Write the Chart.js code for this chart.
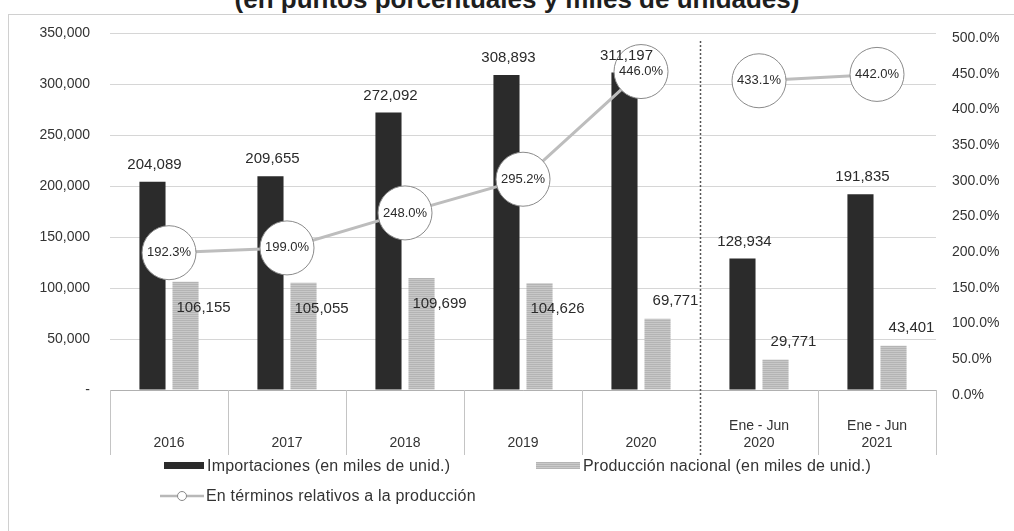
<!DOCTYPE html>
<html>
<head>
<meta charset="utf-8">
<script src="https://cdn.jsdelivr.net/npm/chart.js@4"></script>
<style>
  html, body { margin: 0; padding: 0; background: #fff; }
  #wrap { position: relative; width: 1014px; height: 531px; overflow: hidden; background: #fff; }
  #frame { position: absolute; left: 8px; top: 14px; width: 1100px; height: 600px; border-left: 1px solid #d0d0d0; border-top: 1px solid #d0d0d0; }
  #title { position: absolute; left: 0; top: -14px; width: 1034px; text-align: center; font: bold 26px "Liberation Sans", Arial, sans-serif; color: #1e1e1e; line-height: 26px; }
  canvas { position: absolute; left: 0; top: 0; }
  .lg { position: absolute; font: 16px "Liberation Sans", Arial, sans-serif; color: #333; white-space: nowrap; line-height: 18px; letter-spacing: 0.2px; }
  .sw { display: inline-block; height: 7px; vertical-align: middle; margin-right: 3px; position: relative; top: -1px; }
</style>
</head>
<body>
<div id="wrap">
  <div id="frame"></div>
  <div id="title">(en puntos porcentuales y miles de unidades)</div>
  <canvas id="c" width="1014" height="531"></canvas>
  <div class="lg" style="left:164px; top:457px;"><span class="sw" style="width:40px;background:#2b2b2b"></span>Importaciones (en miles de unid.)</div>
  <div class="lg" style="left:536px; top:457px;"><span class="sw" style="width:44px;background:repeating-linear-gradient(#b4b4b4 0 1px,#cacaca 1px 2px)"></span>Producción nacional (en miles de unid.)</div>
  <div class="lg" style="left:160px; top:487px;"><svg width="44" height="12" style="vertical-align:middle;margin-right:2px;position:relative;top:-1px"><line x1="0" y1="6" x2="44" y2="6" stroke="#b8b8b8" stroke-width="2.5"/><circle cx="22" cy="6" r="4.5" fill="#fff" stroke="#888" stroke-width="1"/></svg>En términos relativos a la producción</div>
</div>
<script>
// ---- data ----
const categoryTop  = ['', '', '', '', '', 'Ene - Jun', 'Ene - Jun'];
const categoryYear = ['2016', '2017', '2018', '2019', '2020', '2020', '2021'];
const importaciones = [204089, 209655, 272092, 308893, 311197, 128934, 191835];
const produccion    = [106155, 105055, 109699, 104626, 69771, 29771, 43401];
const relativo      = [192.3, 199.0, 248.0, 295.2, 446.0, 433.1, 442.0];
const leftTicks  = [0, 50000, 100000, 150000, 200000, 250000, 300000, 350000];
const rightTicks = [0, 50, 100, 150, 200, 250, 300, 350, 400, 450, 500];

const labels = categoryYear.map((y, i) => [categoryTop[i], y]);
const FONT = '"Liberation Sans", Arial, sans-serif';
const fmt = v => v.toLocaleString('en-US');

// hatched light-grey pattern
function hatch() {
  const p = document.createElement('canvas');
  p.width = 4; p.height = 4;
  const g = p.getContext('2d');
  g.fillStyle = '#c8c8c8'; g.fillRect(0, 0, 4, 4);
  g.fillStyle = '#b4b4b4'; g.fillRect(0, 0, 4, 1); g.fillRect(0, 2, 4, 1);
  return g.createPattern(p, 'repeat');
}

const decor = {
  id: 'decor',
  beforeInit(chart) { chart.ctx.letterSpacing = '0.8px'; },
  beforeDatasetsDraw(chart) {
    const ctx = chart.ctx, x = chart.scales.x, area = chart.chartArea;
    const n = categoryYear.length;
    const half = (x.getPixelForValue(1) - x.getPixelForValue(0)) / 2;
    ctx.save();
    ctx.strokeStyle = '#c4c4c4'; ctx.lineWidth = 1;
    for (let i = 0; i <= n; i++) {
      if (i === 5) continue;
      const px = Math.round(x.getPixelForValue(i) - half) + 0.5;
      ctx.beginPath(); ctx.moveTo(px, area.bottom); ctx.lineTo(px, area.bottom + 65); ctx.stroke();
    }
    const dx = Math.round(x.getPixelForValue(5) - half) + 0.5;
    ctx.strokeStyle = '#555'; ctx.setLineDash([2, 2]); ctx.lineWidth = 1.5;
    ctx.beginPath(); ctx.moveTo(dx, area.top + 8); ctx.lineTo(dx, area.bottom + 65); ctx.stroke();
    ctx.restore();
  },
  afterDatasetsDraw(chart) {
    const ctx = chart.ctx;
    ctx.save();
    ctx.fillStyle = '#2a2a2a';
    ctx.textAlign = 'center'; ctx.textBaseline = 'middle';
    ctx.font = '15px ' + FONT;
    chart.getDatasetMeta(1).data.forEach((el, i) => {
      ctx.fillText(fmt(importaciones[i]), el.x + 2, el.y - 17);
    });
    chart.getDatasetMeta(2).data.forEach((el, i) => {
      const y = produccion[i] > 90000 ? el.y + 26 : el.y - 18;
      ctx.fillText(fmt(produccion[i]), el.x + 18, y);
    });
    ctx.letterSpacing = '0px';
    ctx.font = '13px ' + FONT;
    chart.getDatasetMeta(0).data.forEach((el, i) => {
      ctx.fillText(relativo[i].toFixed(1) + '%', el.x, el.y);
    });
    ctx.restore();
  }
};

new Chart(document.getElementById('c'), {
  data: {
    labels: labels,
    datasets: [
      { type: 'line', label: 'En términos relativos a la producción', data: relativo, yAxisID: 'y1', order: 0,
        borderColor: '#bdbdbd', borderWidth: 3,
        segment: { borderColor: c => c.p0DataIndex === 4 ? 'rgba(0,0,0,0)' : '#bdbdbd' },
        pointRadius: 27, pointHoverRadius: 27, pointBackgroundColor: '#fff', pointBorderColor: '#8a8a8a', pointBorderWidth: 1 },
      { type: 'bar', label: 'Importaciones (en miles de unid.)', data: importaciones, yAxisID: 'y', order: 1,
        backgroundColor: '#2b2b2b', categoryPercentage: 0.56, barPercentage: 0.79 },
      { type: 'bar', label: 'Producción nacional (en miles de unid.)', data: produccion, yAxisID: 'y', order: 2,
        backgroundColor: hatch(), categoryPercentage: 0.56, barPercentage: 0.79 }
    ]
  },
  options: {
    responsive: false, animation: false,
    layout: { padding: { top: 33, left: 0, right: 0, bottom: 0 } },
    plugins: { legend: { display: false }, tooltip: { enabled: false }, title: { display: false } },
    scales: {
      x: {
        offset: true,
        grid: { display: false, drawTicks: false },
        border: { display: true, color: '#b0b0b0' },
        ticks: { color: '#333', font: { family: FONT, size: 14 }, padding: 28, maxRotation: 0, autoSkip: false },
        afterFit: s => { s.height = 141; }
      },
      y: {
        position: 'left', min: 0, max: 350000,
        afterBuildTicks: s => { s.ticks = leftTicks.map(v => ({ value: v })); },
        grid: { color: '#d6d6d6', drawTicks: false },
        border: { display: false },
        ticks: { color: '#333', font: { family: FONT, size: 14 }, padding: 20,
                 callback: v => v === 0 ? '-' : fmt(v) },
        afterFit: s => { s.width = 110; }
      },
      y1: {
        position: 'right', min: 0, max: 500,
        afterBuildTicks: s => { s.ticks = rightTicks.map(v => ({ value: v })); },
        grid: { display: false, drawTicks: false },
        border: { display: false },
        ticks: { color: '#333', font: { family: FONT, size: 14 }, padding: 16, labelOffset: 5,
                 callback: v => v.toFixed(1) + '%' },
        afterFit: s => { s.width = 78; }
      }
    }
  },
  plugins: [decor]
});
</script>
</body>
</html>
